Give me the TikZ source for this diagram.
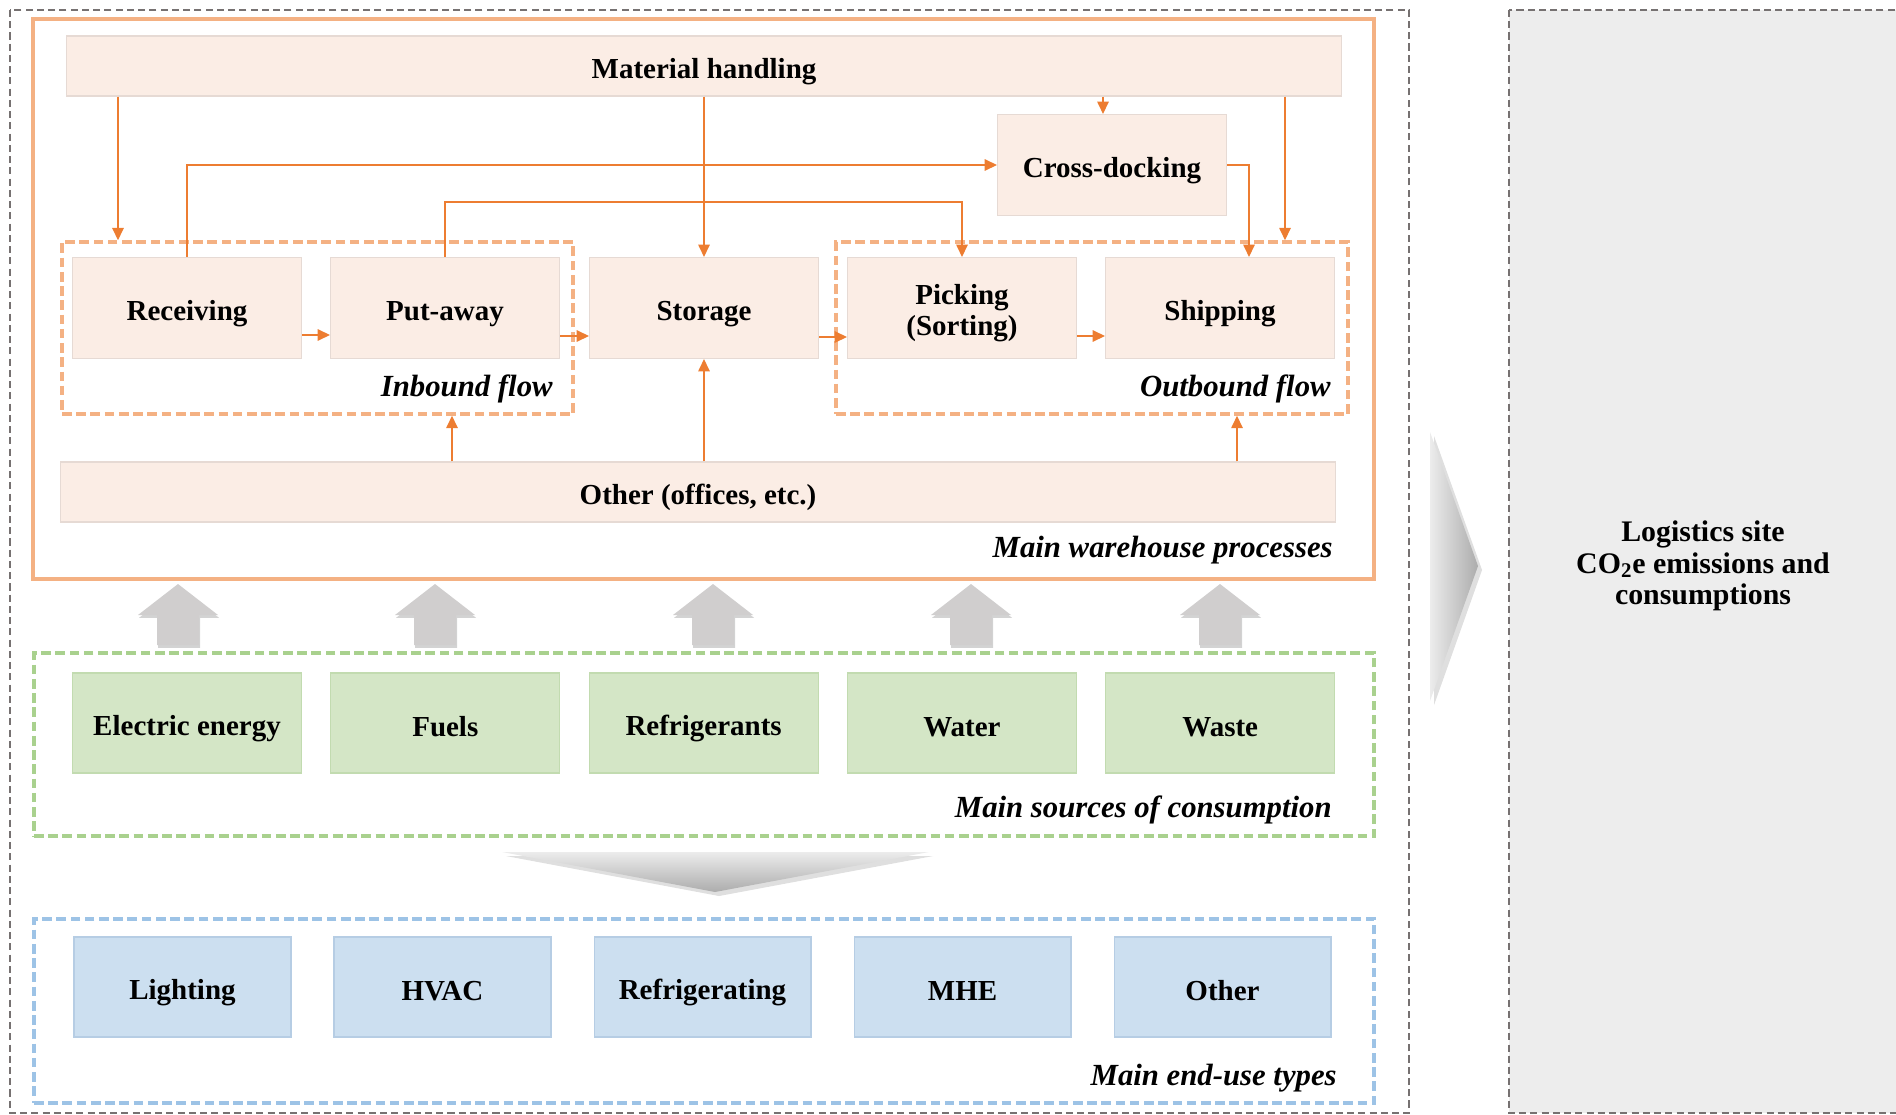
\documentclass[tikz,border=0pt]{standalone}
\usepackage{fontspec}
\setmainfont{Liberation Serif}
\usetikzlibrary{arrows.meta,fit,shadows}

\definecolor{procfill}{HTML}{FBEDE5}
\definecolor{procline}{HTML}{E6DAD4}
\definecolor{srcfill}{HTML}{D4E6C6}
\definecolor{srcline}{HTML}{C2DBB0}
\definecolor{usefill}{HTML}{CCDFF0}
\definecolor{useline}{HTML}{B6CDE4}
\definecolor{linkorange}{HTML}{ED7D31}
\definecolor{frameorange}{HTML}{F4B183}
\definecolor{framegreen}{HTML}{A9D18E}
\definecolor{frameblue}{HTML}{9DC3E6}
\definecolor{framegrey}{HTML}{767171}
\definecolor{sitefill}{HTML}{EDEDED}
\definecolor{blockgrey}{HTML}{D0CECE}

\newlength{\boxwidth}
\setlength{\boxwidth}{4.58cm}
\newcommand{\procfont}{\fontsize{16.5}{17.5}\selectfont\bfseries}
\newcommand{\groupfont}{\fontsize{17.5}{18}\selectfont\bfseries\itshape}

\tikzset{
    procbox/.style={draw=procline, fill=procfill, line width=0.6pt, minimum width=\boxwidth,
        minimum height=2.02cm, inner sep=0pt, align=center, font=\procfont,
        execute at begin node={\rule[-2pt]{0pt}{19.5pt}}},
    widebox/.style={procbox, minimum width=25.5cm, minimum height=1.2cm},
    srcbox/.style={procbox, draw=srcline, fill=srcfill, minimum height=2cm},
    usebox/.style={procbox, draw=useline, fill=usefill, minimum width=4.34cm, minimum height=2cm},
    flowframe/.style={draw=frameorange, line width=2pt, dash pattern=on 5.5pt off 2.6pt, inner sep=0pt},
    grouplabel/.style={anchor=east, inner sep=0pt, font=\groupfont},
    link/.style={draw=linkorange, line width=0.8pt, -{Triangle[length=7pt,width=6.5pt]}},
    blockarrow/.style={fill=blockgrey, drop shadow={shadow xshift=0.6pt, shadow yshift=-1.6pt, opacity=0.35}},
}

\begin{document}
\begin{tikzpicture}[x=0.02cm, y=-0.02cm]
    \useasboundingbox (0,0) rectangle (1896,1115);

    \draw[framegrey, line width=1.4pt, dash pattern=on 4pt off 2.4pt] (10,10) rectangle (1409,1113);
    \draw[framegrey, fill=sitefill, line width=1.4pt, dash pattern=on 4pt off 2.4pt] (1509,10) rectangle (1920,1113);

    \node[draw=frameorange, line width=1.8pt, inner sep=0pt, fit={(33,19) (1374,579)}] (procarea) {};
    \node[flowframe, draw=framegreen, fit={(34,653) (1374,836)}] (srcarea) {};
    \node[flowframe, draw=frameblue, fit={(34,919) (1374,1103)}] (usearea) {};
    \node[flowframe, fit={(62,242) (573,414)}] (inbound) {};
    \node[flowframe, fit={(836,242) (1348,414)}] (outbound) {};

    \node[widebox] (handling) at (704,66) {Material handling};
    \node[procbox] (xdock) at (1112,165) {Cross-docking};
    \node[procbox] (recv) at (187,308) {Receiving};
    \node[procbox] (putaway) at (445,308) {Put-away};
    \node[procbox] (storage) at (704,308) {Storage};
    \node[procbox] (picking) at (962,308) {\rule{0pt}{17.3pt}Picking\\(Sorting)};
    \node[procbox] (shipping) at (1220,308) {Shipping};
    \node[widebox] (offices) at (698,492) {Other (offices, etc.)};

    \node[grouplabel] (inlabel) at (553,389) {Inbound flow};
    \node[grouplabel] (outlabel) at (1331,389) {Outbound flow};
    \node[grouplabel] (proclabel) at (1333,550) {Main warehouse processes};
    \node[grouplabel] (srclabel) at (1332,810) {Main sources of consumption};
    \node[grouplabel] (uselabel) at (1337,1078) {Main end-use types};

    \foreach \name/\txt [count=\i from 0] in {elec/Electric energy, fuels/Fuels, refrig/Refrigerants, water/Water, waste/Waste}
        \node[srcbox] (\name) at ({187+258.3*\i},723) {\txt};
    \foreach \name/\txt [count=\i from 0] in {light/Lighting, hvac/HVAC, cooling/Refrigerating, mhe/MHE, enduse/Other}
        \node[usebox] (\name) at ({182.5+260*\i},987) {\txt};

    \node[align=center, font=\fontsize{17}{18}\selectfont\bfseries] (site) at (1703,566) {Logistics site\\CO\textsubscript{2}e emissions and\\consumptions};

    \draw[link] (handling.south -| 118,0) -- (inbound.north -| 118,0);
    \draw[link] (handling.south -| storage.north) -- (storage.north);
    \draw[link] (handling.south -| 1103,0) -- (xdock.north -| 1103,0);
    \draw[link] (handling.south -| 1285,0) -- (outbound.north -| 1285,0);
    \draw[link] (recv.north) |- (xdock.west);
    \draw[link] (putaway.north) -- (putaway.north |- 0,202) -| (picking.north);
    \draw[link] (xdock.east) -| (1249,0 |- shipping.north);
    \draw[link] (recv.east |- 0,335) -- (putaway.west |- 0,335);
    \draw[link] (putaway.east |- 0,336) -- (storage.west |- 0,336);
    \draw[link] (storage.east |- 0,337) -- (picking.west |- 0,337);
    \draw[link] (picking.east |- 0,336) -- (shipping.west |- 0,336);
    \draw[link] (offices.north -| 452,0) -- (inbound.south -| 452,0);
    \draw[link] (offices.north -| storage.south) -- (storage.south);
    \draw[link] (offices.north -| 1237,0) -- (outbound.south -| 1237,0);

    \foreach \x in {178,435,713,971,1220}
        \path[blockarrow] (\x,584) -- (\x+40,615) -- (\x+21,615) -- (\x+21,645)
            -- (\x-21,645) -- (\x-21,615) -- (\x-40,615) -- cycle;
    \path[top color=gray!15, bottom color=gray!65, drop shadow={opacity=0.25}] (502,852) -- (929,852) -- (715,892) -- cycle;
    \path[left color=gray!15, right color=gray!65, drop shadow={opacity=0.25}] (1430,432) -- (1478,566) -- (1430,701) -- cycle;
\end{tikzpicture}
\end{document}
